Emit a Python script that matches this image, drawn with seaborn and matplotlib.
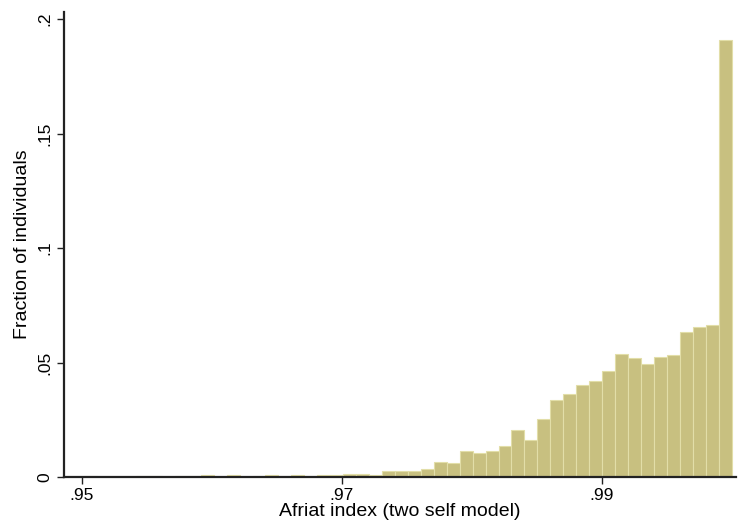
import numpy as np
import pandas as pd
import matplotlib
matplotlib.use("Agg")
import matplotlib.pyplot as plt
import seaborn as sns

# Histogram of Afriat index: 50 bins from the minimum to 1
bin_start = 0.9502
bin_end = 1.0
n_bins = 50

# Fraction of individuals in each bin
fractions = [
    0.0004, 0.0, 0.0, 0.0, 0.0004, 0.0004, 0.0, 0.0004, 0.0004, 0.0009,
    0.0, 0.0009, 0.0, 0.0004, 0.0009, 0.0004, 0.0009, 0.0004, 0.0009, 0.0007,
    0.0015, 0.0015, 0.0010, 0.0028, 0.0028, 0.0028, 0.0036, 0.0066, 0.0060, 0.0112,
    0.0103, 0.0115, 0.0133, 0.0207, 0.0162, 0.0253, 0.0338, 0.0361, 0.0403, 0.0418,
    0.0464, 0.0536, 0.0518, 0.0492, 0.0524, 0.0533, 0.0633, 0.0655, 0.0662, 0.1910,
]

x_ticks = [0.95, 0.97, 0.99]
x_ticklabels = [".95", ".97", ".99"]
y_ticks = [0, 0.05, 0.1, 0.15, 0.2]
y_ticklabels = ["0", ".05", ".1", ".15", ".2"]

edges = np.linspace(bin_start, bin_end, n_bins + 1)
df = pd.DataFrame({
    "afriat": (edges[:-1] + edges[1:]) / 2,
    "fraction": fractions,
})

sns.set_theme(style="white")
plt.rcParams.update({
    "font.family": ["Liberation Sans", "DejaVu Sans"],
    "text.color": "black",
    "axes.labelcolor": "black",
    "xtick.color": "black",
    "ytick.color": "black",
})

fig, ax = plt.subplots(figsize=(7.44, 5.27), dpi=100)
fig.subplots_adjust(left=0.086, right=0.989, bottom=0.095, top=0.977)

sns.histplot(
    data=df,
    x="afriat",
    weights="fraction",
    bins=n_bins,
    binrange=(bin_start, bin_end),
    stat="count",
    color="#c8c080",
    edgecolor="#e2dea8",
    linewidth=0.8,
    alpha=1,
    ax=ax,
)

ax.set_xlim(0.94864, 1.00033)
ax.set_ylim(0, 0.2031)
ax.set_xticks(x_ticks)
ax.set_xticklabels(x_ticklabels)
ax.set_yticks(y_ticks)
ax.set_yticklabels(y_ticklabels, rotation=90, va="center")
ax.tick_params(axis="both", direction="out", length=5, width=1, color="#222222",
               labelsize=12.5, labelcolor="black", bottom=True, left=True, pad=3)

for side in ["top", "right"]:
    ax.spines[side].set_visible(False)
for side in ["left", "bottom"]:
    ax.spines[side].set_color("#222222")
    ax.spines[side].set_linewidth(1.6)

ax.set_xlabel("Afriat index (two self model)", fontsize=14, labelpad=0, color="black")
ax.set_ylabel("Fraction of individuals", fontsize=14, labelpad=5, color="black")
ax.grid(False)

fig.savefig("out.png", dpi=100)
